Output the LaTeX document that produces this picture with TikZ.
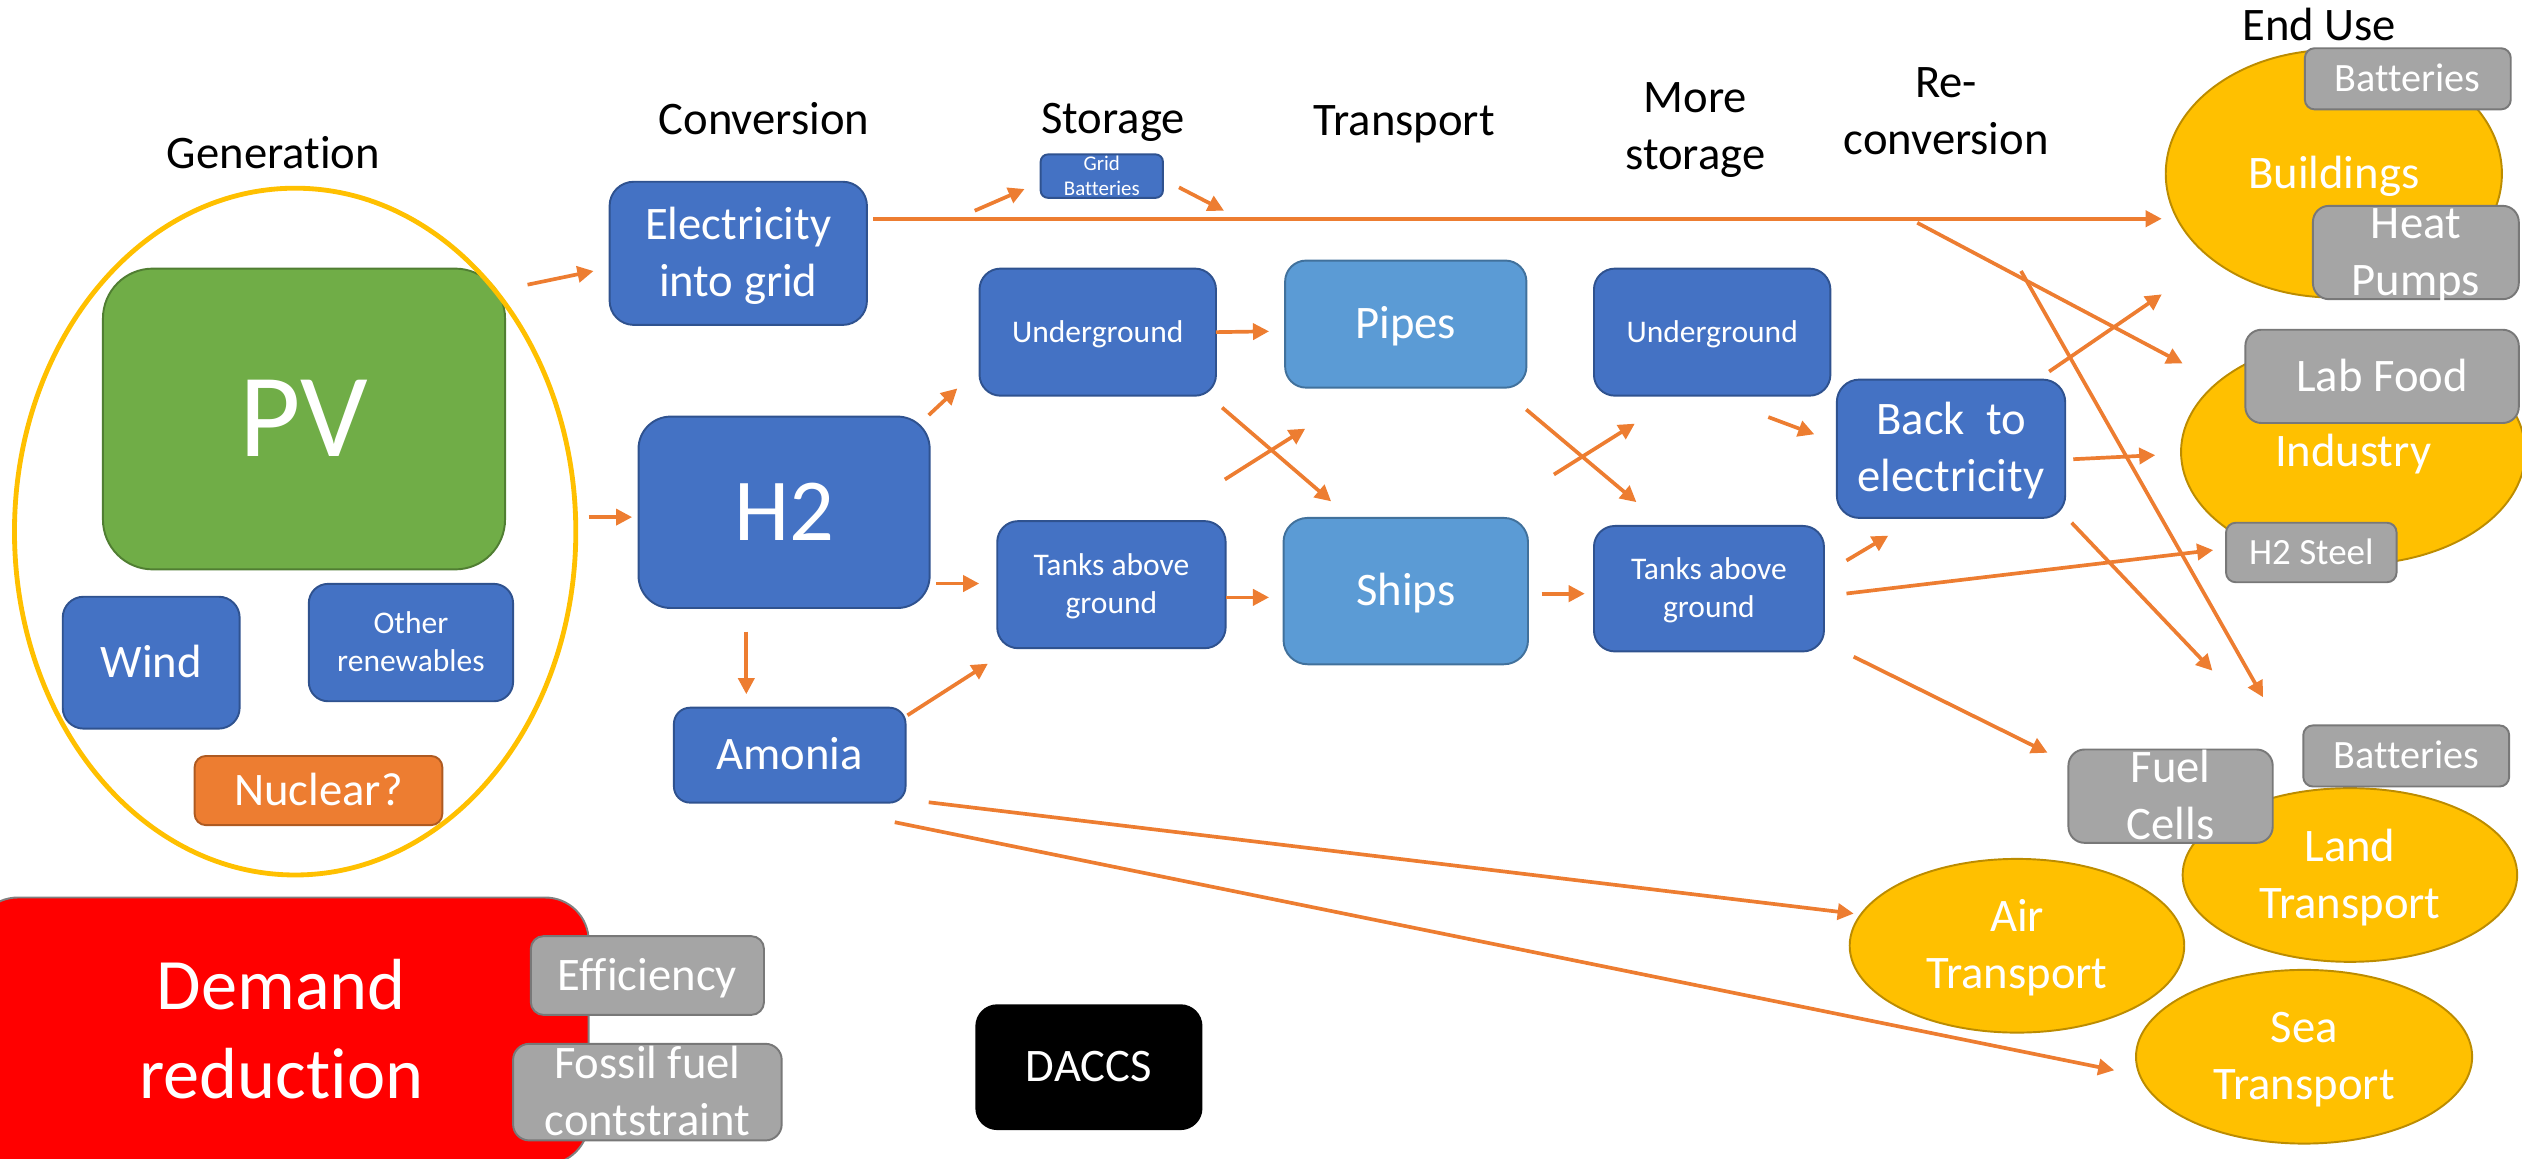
\documentclass[tikz,border=0pt]{standalone}
\usepackage{fontspec}
\setmainfont{Carlito}[Ligatures=NoCommon]
\usetikzlibrary{shapes.geometric,arrows.meta,calc}

\definecolor{boxblue}{HTML}{4472C4}
\definecolor{boxline}{HTML}{2F528F}
\definecolor{pipeblue}{HTML}{5B9BD5}
\definecolor{pipeline}{HTML}{41719C}
\definecolor{pvgreen}{HTML}{70AD47}
\definecolor{pvline}{HTML}{507E32}
\definecolor{nucorange}{HTML}{ED7D31}
\definecolor{nucline}{HTML}{AE5A21}
\definecolor{usegray}{HTML}{A5A5A5}
\definecolor{useline}{HTML}{787878}
\definecolor{useyellow}{HTML}{FFC000}
\definecolor{useyline}{HTML}{BC8C00}
\definecolor{floworange}{HTML}{ED7D31}

\newcommand\txtPV{\fontsize{74}{89}\selectfont}
\newcommand\txtHtwo{\fontsize{55}{66}\selectfont}
\newcommand\txtDem{\fontsize{45}{55}\selectfont}
\newcommand\txtL{\fontsize{29}{35.4}\selectfont}
\newcommand\txtM{\fontsize{25}{30}\selectfont}
\newcommand\txtSteel{\fontsize{23}{28}\selectfont}
\newcommand\txtS{\fontsize{19.6}{23.5}\selectfont}
\newcommand\txtXS{\fontsize{13}{15.6}\selectfont}
\newcommand\lnstrut{\rule[-0.22em]{0pt}{1.07em}}
\newcommand\lbr{\lnstrut\\\lnstrut}

\tikzset{
  box/.style={draw=boxline, fill=boxblue, text=white, line width=1.2pt, rounded corners=13pt,
    inner sep=0pt, outer sep=0pt, align=center, font=\txtL,
    execute at begin node=\lnstrut, execute at end node=\lnstrut},
  lbox/.style={box, draw=pipeline, fill=pipeblue},
  gbox/.style={box, draw=useline, fill=usegray},
  enduse/.style={ellipse, draw=useyline, fill=useyellow, text=white, line width=1.2pt,
    inner sep=0pt, outer sep=0pt, align=center, font=\txtL,
    execute at begin node=\lnstrut, execute at end node=\lnstrut},
  head/.style={align=center, font=\txtL},
  flow/.style={draw=floworange, line width=2.3pt, -{Triangle[length=10pt,width=10pt]}},
}

\begin{document}
\begin{tikzpicture}[x=1pt, y=-1pt]
  \useasboundingbox (0,0) rectangle (1568,720);
  \clip (0,0) rectangle (1568,720);

  \node[head] (hgen) at (170,95) {Generation};
  \node[head] (hconv) at (475,74) {Conversion};
  \node[head] (hstor) at (692,76) {Storage};
  \node[head] (htrans) at (873,77) {Transport};
  \node[head] (hmore) at (1054,81) {More\\storage};
  \node[head] (hre) at (1210,69) {Re-\\conversion};
  \node[head] (huse) at (1442,15) {End Use};

  \node[box, draw=pvline, fill=pvgreen, minimum width=250pt, minimum height=187pt, rounded corners=31pt, font=\txtPV] (pv) at (189,260.5) {PV};
  \node[box, minimum width=110pt, minimum height=82pt] (wind) at (94,412) {Wind};
  \node[box, minimum width=127pt, minimum height=73pt, rounded corners=12pt, font=\txtS] (other) at (255.5,399.5) {Other\lbr renewables};
  \node[box, draw=nucline, fill=nucorange, minimum width=154pt, minimum height=43pt, rounded corners=7pt] (nuc) at (198,491.5) {Nuclear?};
  \node[ellipse, draw=useyellow, line width=3pt, inner sep=0pt, outer sep=0pt, minimum width=349pt, minimum height=427pt] (gen) at (183.5,330.5) {};

  \node[box, minimum width=160pt, minimum height=89pt, rounded corners=15pt] (elec) at (459,157.5) {Electricity\lbr into grid};
  \node[box, minimum width=181pt, minimum height=119pt, rounded corners=20pt, font=\txtHtwo] (h2) at (487.5,318.5) {H2};
  \node[box, minimum width=144pt, minimum height=59pt, rounded corners=10pt] (amonia) at (491,469.5) {Amonia};

  \node[box, minimum width=76pt, minimum height=27pt, inner ysep=-1.3pt, rounded corners=4.5pt, font=\txtXS] (gbat) at (685,109.5) {Grid\lbr Batteries};
  \node[box, font=\txtS, minimum width=147pt, minimum height=79pt] (ug1) at (682.5,206.5) {Underground};
  \node[box, font=\txtS, minimum width=142pt, minimum height=79pt] (tank1) at (691,363.5) {Tanks above\lbr ground};

  \node[lbox, minimum width=150pt, minimum height=79pt] (pipes) at (874,201.5) {Pipes};
  \node[lbox, minimum width=152pt, minimum height=91pt, rounded corners=15pt] (ships) at (874,367.5) {Ships};

  \node[box, font=\txtS, minimum width=147pt, minimum height=79pt] (ug2) at (1064.5,206.5) {Underground};
  \node[box, font=\txtS, minimum width=143pt, minimum height=78pt] (tank2) at (1062.5,366) {Tanks above\lbr ground};
  \node[box, minimum width=142pt, minimum height=86pt, rounded corners=14pt] (back) at (1213,279) {Back~ to\lbr electricity};

  \node[box, draw=gray, fill=red, minimum width=382pt, minimum height=166pt, rounded corners=27pt, font=\txtDem] (demand) at (175,641) {Demand\lbr reduction};
  \node[gbox, minimum width=145pt, minimum height=49pt, rounded corners=8pt] (eff) at (402.5,606.5) {Efficiency};
  \node[gbox, minimum width=167pt, minimum height=60pt, inner ysep=-3.2pt, rounded corners=10pt] (fossil) at (402.5,679) {Fossil fuel\lbr contstraint};
  \node[box, draw=black, fill=black, minimum width=140pt, minimum height=77pt] (daccs) at (677,663.5) {DACCS};

  \node[enduse, minimum width=209pt, minimum height=154pt] (build) at (1451,108) {Buildings};
  \node[gbox, minimum width=128pt, minimum height=38pt, rounded corners=6pt, font=\txtM] (bat1) at (1497,49) {Batteries};
  \node[gbox, minimum width=128pt, minimum height=58pt, inner ysep=-4.2pt, rounded corners=10pt] (heat) at (1502,157) {Heat\lbr Pumps};
  \node[enduse, minimum width=214pt, minimum height=140pt] (ind) at (1463,281) {Industry};
  \node[gbox, minimum width=170pt, minimum height=58pt, rounded corners=10pt] (lab) at (1481,234) {Lab Food};
  \node[gbox, minimum width=106pt, minimum height=37pt, rounded corners=6pt, font=\txtSteel] (steel) at (1437,343.5) {H2 Steel};
  \node[enduse, minimum width=208pt, minimum height=108pt] (land) at (1461,544) {Land\lbr Transport};
  \node[gbox, minimum width=128pt, minimum height=38pt, rounded corners=6pt, font=\txtM] (bat2) at (1496,470) {Batteries};
  \node[gbox, minimum width=127pt, minimum height=58pt, inner ysep=-4.2pt, rounded corners=10pt] (fuel) at (1349.5,495) {Fuel\lbr Cells};
  \node[enduse, minimum width=208pt, minimum height=108pt] (air) at (1254,588) {Air\lbr Transport};
  \node[enduse, minimum width=209pt, minimum height=108pt] (sea) at (1432.5,657) {Sea\lbr Transport};

  \coordinate (g1) at (761,131);
  \coordinate (split1) at (1192,138.5);
  \coordinate (split2) at (1256.5,168.5);

  \draw[flow] ($(pv.north east)+(14,10)$) -- ($(elec.west)+(-10,11)$);
  \draw[flow] ($(gen.east)+(8,-9)$) -- ($(h2.west)+(-4,3)$);
  \draw[flow] ($(elec.north east)+(67,18)$) -- ($(gbat.west)+(-10,8)$);
  \draw[flow] ($(gbat.east)+(10,7)$) -- (g1);
  \draw[flow] ($(elec.east)+(4,-21.5)$) -- ($(build.west)+(-2.5,28)$);
  \draw[flow] (split1) -- ($(ind.west)+(1,-55)$);
  \draw[flow] (split2) -- ($(land.north)+(-54,-56.5)$);
  \draw[flow] ($(back.north east)+(-10,-5)$) -- ($(build.west)+(-2.5,75)$);
  \draw[flow] ($(back.east)+(5,6.5)$) -- ($(ind.west)+(-16,2)$);
  \draw[flow] ($(back.south east)+(4,3)$) -- ($(fuel.north)+(26,-49)$);
  \draw[flow] ($(tank2.east)+(14,3)$) -- ($(steel.west)+(-8,-1.5)$);
  \draw[flow] ($(tank2.east)+(14,-17.5)$) -- ($(back.south west)+(32,11)$);
  \draw[flow] ($(tank2.south east)+(18.5,3.3)$) -- ($(fuel.west)+(-13,-27)$);
  \draw[flow] ($(ug2.south east)+(-38.6,13.3)$) -- ($(back.west)+(-14,-9)$);
  \draw[flow] ($(amonia.south east)+(14.4,-0.2)$) -- ($(air.west)+(2.5,-20)$);
  \draw[flow] ($(amonia.south east)+(-6.7,12.2)$) -- ($(sea.west)+(-13.5,8.4)$);
  \draw[flow] ($(amonia.north east)+(1.2,4.7)$) -- ($(tank1.south west)+(-5.8,9.6)$);
  \draw[flow] ($(h2.south)+(-23.5,14.7)$) -- ($(amonia.north)+(-27,-8.4)$);
  \draw[flow] ($(h2.north east)+(-0.6,-0.9)$) -- ($(ug1.south west)+(-13.8,-4.5)$);
  \draw[flow] ($(h2.east)+(4,44.3)$) -- ($(tank1.west)+(-11.2,-0.7)$);
  \draw[flow] (ug1.east) -- ($(pipes.west)+(-10,4.5)$);
  \draw[flow] ($(ug1.south east)+(3.8,7.4)$) -- ($(ships.north west)+(29.6,-10.3)$);
  \draw[flow] ($(tank1.north east)+(-0.5,-25.9)$) -- ($(pipes.south west)+(12.5,25.5)$);
  \draw[flow] ($(tank1.east)+(0.3,7.9)$) -- ($(ships.west)+(-9,3.9)$);
  \draw[flow] ($(pipes.south east)+(-0.1,13.6)$) -- ($(tank2.north west)+(26.4,-14.8)$);
  \draw[flow] ($(ships.north east)+(16.1,-27)$) -- ($(ug2.south west)+(25.4,17.4)$);
  \draw[flow] ($(ships.east)+(8.5,1.6)$) -- ($(tank2.west)+(-5.7,3.1)$);
\end{tikzpicture}
\end{document}
